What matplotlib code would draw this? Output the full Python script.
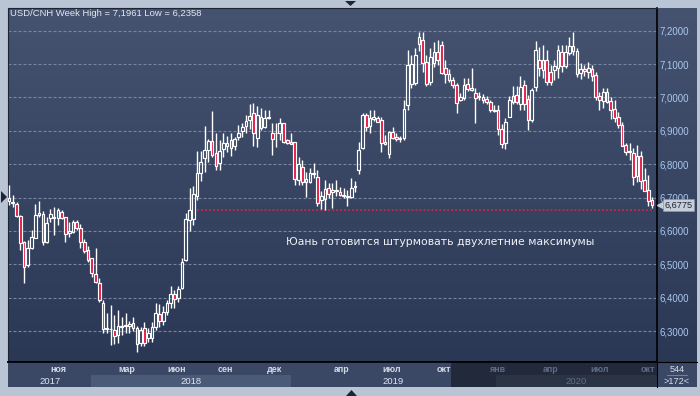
import numpy as np
import matplotlib
matplotlib.use("Agg")
import matplotlib.pyplot as plt
from matplotlib.patches import Polygon, Rectangle

# ---------------- data ----------------
opens = [6.690, 6.683, 6.681, 6.645, 6.568, 6.498, 6.549, 6.579, 6.648, 6.651,
         6.567, 6.639, 6.643, 6.639, 6.657, 6.642, 6.594, 6.597, 6.627, 6.609,
         6.567, 6.543, 6.519, 6.471, 6.444, 6.385, 6.310, 6.307, 6.303, 6.288,
         6.315, 6.315, 6.315, 6.324, 6.309, 6.264, 6.309, 6.279, 6.279, 6.312,
         6.351, 6.330, 6.357, 6.384, 6.411, 6.399, 6.430, 6.513, 6.632, 6.635,
         6.705, 6.773, 6.818, 6.842, 6.869, 6.833, 6.804, 6.845, 6.854, 6.872,
         6.854, 6.881, 6.900, 6.914, 6.932, 6.953, 6.878, 6.942, 6.910, 6.937,
         6.893, 6.893, 6.894, 6.922, 6.872, 6.867, 6.867, 6.753, 6.792, 6.748,
         6.748, 6.772, 6.762, 6.693, 6.696, 6.730, 6.716, 6.720, 6.716, 6.705,
         6.701, 6.703, 6.733, 6.782, 6.848, 6.947, 6.915, 6.934, 6.938, 6.932,
         6.867, 6.830, 6.896, 6.880, 6.875, 6.878, 6.977, 7.040, 7.043, 7.182,
         7.172, 7.105, 7.047, 7.103, 7.136, 7.157, 7.087, 7.070, 7.052, 7.037,
         6.992, 6.997, 7.040, 7.027, 7.012, 7.000, 7.000, 6.994, 6.985, 6.962,
         6.962, 6.904, 6.863, 6.942, 6.987, 7.007, 6.980, 7.037, 6.994, 6.932,
         7.030, 7.112, 7.082, 7.112, 7.077, 7.082, 7.089, 7.135, 7.095, 7.132,
         7.154, 7.139, 7.072, 7.084, 7.076, 7.085, 7.067, 7.004, 6.989, 7.015,
         6.990, 6.965, 6.940, 6.917, 6.857, 6.838, 6.834, 6.764, 6.825, 6.753,
         6.723, 6.693]
highs = [6.737, 6.707, 6.688, 6.647, 6.570, 6.572, 6.603, 6.680, 6.690, 6.660,
         6.641, 6.666, 6.672, 6.669, 6.663, 6.643, 6.627, 6.633, 6.633, 6.620,
         6.576, 6.555, 6.519, 6.549, 6.458, 6.393, 6.354, 6.378, 6.348, 6.363,
         6.342, 6.354, 6.330, 6.342, 6.315, 6.312, 6.327, 6.309, 6.327, 6.384,
         6.381, 6.375, 6.393, 6.435, 6.423, 6.435, 6.519, 6.654, 6.730, 6.734,
         6.840, 6.840, 6.914, 6.876, 6.959, 6.894, 6.873, 6.894, 6.885, 6.894,
         6.882, 6.917, 6.924, 6.947, 6.980, 6.983, 6.974, 6.968, 6.962, 6.962,
         6.923, 6.923, 6.938, 6.924, 6.874, 6.894, 6.867, 6.822, 6.812, 6.776,
         6.789, 6.804, 6.783, 6.720, 6.753, 6.744, 6.743, 6.753, 6.731, 6.729,
         6.722, 6.760, 6.750, 6.866, 6.953, 6.953, 6.962, 6.962, 6.944, 6.942,
         6.888, 6.899, 6.911, 6.893, 6.884, 6.992, 7.142, 7.127, 7.148, 7.196,
         7.1961, 7.127, 7.148, 7.166, 7.172, 7.169, 7.112, 7.084, 7.061, 7.043,
         7.013, 7.058, 7.058, 7.088, 7.028, 7.016, 7.010, 7.004, 6.993, 6.977,
         6.977, 6.920, 6.938, 7.004, 7.034, 7.034, 7.064, 7.052, 7.007, 7.028,
         7.169, 7.150, 7.157, 7.142, 7.097, 7.112, 7.157, 7.157, 7.157, 7.181,
         7.197, 7.148, 7.103, 7.097, 7.106, 7.097, 7.076, 7.016, 7.028, 7.028,
         7.001, 6.992, 6.956, 6.926, 6.863, 6.863, 6.849, 6.858, 6.840, 6.790,
         6.768, 6.702]
lows = [6.677, 6.672, 6.643, 6.543, 6.444, 6.491, 6.546, 6.578, 6.643, 6.558,
        6.564, 6.627, 6.588, 6.618, 6.636, 6.567, 6.582, 6.594, 6.603, 6.549,
        6.534, 6.507, 6.462, 6.444, 6.387, 6.294, 6.294, 6.258, 6.261, 6.264,
        6.288, 6.294, 6.294, 6.300, 6.2358, 6.255, 6.255, 6.267, 6.267, 6.303,
        6.312, 6.318, 6.348, 6.369, 6.369, 6.387, 6.426, 6.510, 6.600, 6.618,
        6.693, 6.750, 6.777, 6.806, 6.821, 6.783, 6.783, 6.822, 6.837, 6.825,
        6.843, 6.873, 6.882, 6.893, 6.905, 6.854, 6.851, 6.902, 6.908, 6.935,
        6.827, 6.851, 6.873, 6.864, 6.860, 6.860, 6.738, 6.738, 6.738, 6.703,
        6.745, 6.759, 6.675, 6.665, 6.662, 6.699, 6.670, 6.705, 6.705, 6.699,
        6.676, 6.699, 6.717, 6.771, 6.845, 6.899, 6.894, 6.928, 6.926, 6.837,
        6.857, 6.819, 6.875, 6.870, 6.866, 6.872, 6.962, 7.029, 7.037, 7.140,
        7.076, 7.033, 7.037, 7.091, 7.097, 7.070, 7.043, 7.046, 7.028, 6.954,
        6.989, 6.993, 7.019, 7.019, 6.923, 6.992, 6.983, 6.980, 6.956, 6.956,
        6.887, 6.848, 6.845, 6.941, 6.980, 6.980, 6.962, 6.962, 6.902, 6.926,
        7.019, 7.064, 7.058, 7.037, 7.037, 7.052, 7.058, 7.076, 7.088, 7.127,
        7.127, 7.061, 7.055, 7.064, 7.058, 7.049, 6.992, 6.962, 6.968, 6.983,
        6.935, 6.926, 6.908, 6.855, 6.827, 6.812, 6.738, 6.746, 6.727, 6.720,
        6.675, 6.668]
closes = [6.700, 6.688, 6.645, 6.563, 6.493, 6.549, 6.582, 6.648, 6.654, 6.567,
          6.624, 6.651, 6.640, 6.663, 6.639, 6.591, 6.600, 6.627, 6.609, 6.567,
          6.540, 6.513, 6.474, 6.447, 6.393, 6.305, 6.307, 6.305, 6.285, 6.315,
          6.312, 6.318, 6.320, 6.309, 6.261, 6.303, 6.264, 6.294, 6.312, 6.354,
          6.330, 6.357, 6.384, 6.411, 6.396, 6.426, 6.507, 6.636, 6.663, 6.710,
          6.774, 6.807, 6.842, 6.869, 6.827, 6.794, 6.840, 6.863, 6.864, 6.849,
          6.875, 6.894, 6.912, 6.929, 6.944, 6.894, 6.947, 6.908, 6.938, 6.940,
          6.875, 6.894, 6.924, 6.867, 6.864, 6.860, 6.756, 6.800, 6.748, 6.756,
          6.774, 6.774, 6.684, 6.705, 6.726, 6.710, 6.722, 6.722, 6.708, 6.706,
          6.706, 6.729, 6.735, 6.842, 6.947, 6.912, 6.938, 6.942, 6.927, 6.863,
          6.860, 6.897, 6.878, 6.876, 6.878, 6.965, 7.097, 7.100, 7.127, 7.159,
          7.102, 7.039, 7.122, 7.136, 7.112, 7.072, 7.070, 7.052, 7.037, 6.982,
          7.002, 7.037, 7.024, 7.022, 6.997, 7.004, 6.992, 6.987, 6.962, 6.960,
          6.904, 6.860, 6.927, 6.992, 7.004, 6.987, 7.030, 6.980, 6.932, 7.022,
          7.142, 7.087, 7.112, 7.045, 7.045, 7.094, 7.142, 7.095, 7.137, 7.154,
          7.139, 7.069, 7.085, 7.080, 7.088, 7.065, 7.002, 6.992, 7.015, 6.987,
          6.962, 6.939, 6.917, 6.855, 6.836, 6.837, 6.763, 6.825, 6.751, 6.720,
          6.690, 6.6775]

price_ticks = [6.3, 6.4, 6.5, 6.6, 6.7, 6.8, 6.9, 7.0, 7.1, 7.2]
month_labels = ["ноя", "мар", "июн", "сен", "дек", "апр", "июл", "окт",
                "янв", "апр", "июл", "окт"]
month_pos = [12.85, 30.85, 44.1, 57.0, 70.1, 88.0, 101.3, 115.3,
             129.4, 143.6, 156.6, 169.6]
year_labels = ["2017", "2018", "2019", "2020"]
year_bounds = [-0.27, 21.9, 75.0, 129.4, 172.3]
last_price = 6.6775
alert_level = 6.662
alert_start = 50
title = "USD/CNH Week High = 7,1961 Low = 6,2358"
note = "Юань готовится штурмовать двухлетние максимумы"
note_x, note_y = 73.7, 6.567
bar_count_top = "544"
bar_count_bottom = ">172<"
dim_start = 117.5

# ---------------- figure ----------------
W, H = 700, 396
fig = plt.figure(figsize=(W / 100, H / 100), dpi=100)
fig.patch.set_facecolor("#b9c5d5")


def box(x0, y0, x1, y1):
    return [x0 / W, 1 - y1 / H, (x1 - x0) / W, (y1 - y0) / H]


def pt(x, y):
    return (x / W, 1 - y / H)


# gradient background (plot + right scale)
bg = fig.add_axes(box(8, 8, 697, 362))
top_c = np.array([0x45, 0x53, 0x70]) / 255
bot_c = np.array([0x2a, 0x38, 0x56]) / 255
t = np.linspace(0, 1, 256)[:, None, None]
grad = top_c[None, None, :] * (1 - t) + bot_c[None, None, :] * t
bg.imshow(grad, extent=[0, 1, 0, 1], aspect="auto", interpolation="bilinear")
bg.set_axis_off()

ax = fig.add_axes(box(8, 8, 657, 362))
ax.set_facecolor("none")
n = len(closes)
idx = np.arange(n)
o = np.array(opens); c = np.array(closes); h = np.array(highs); l = np.array(lows)
ax.set_xlim(-0.27, 172.3)
ax.set_ylim(6.2072, 7.268)

# grid
ax.set_xticks(month_pos)
ax.set_yticks(price_ticks)
ax.grid(True, color="#7886a2", linewidth=0.8, linestyle=(0, (2.7, 1.8)))
ax.set_axisbelow(True)
ax.tick_params(axis="x", length=0, labelbottom=False)
ax.yaxis.tick_right()
ax.set_yticklabels([f"{v:.4f}".replace(".", ",") for v in price_ticks],
                   fontfamily="Liberation Sans", fontsize=6.9, color="#abc8ee")
ax.tick_params(axis="y", length=0, pad=2.0)
for s in ["left", "top"]:
    ax.spines[s].set_color("#1c2435")
    ax.spines[s].set_linewidth(0.8)
for s in ["right", "bottom"]:
    ax.spines[s].set_color("#000000")
    ax.spines[s].set_linewidth(1.2)

# candles
body_lo = np.minimum(o, c)
body_hi = np.maximum(o, c)
ax.vlines(idx, body_hi, h, colors="white", linewidth=1.0, zorder=3)
ax.vlines(idx, l, body_lo, colors="white", linewidth=1.0, zorder=3)
height = np.maximum(body_hi - body_lo, 0.0015)
up = c >= o
ax.bar(idx[up], height[up], bottom=body_lo[up], width=0.72,
       facecolor="none", edgecolor="white", linewidth=0.85, zorder=4)
ax.bar(idx[~up], height[~up], bottom=body_lo[~up], width=0.72,
       facecolor="#e2143f", edgecolor="white", linewidth=0.85, zorder=4)

# alert line
ax.hlines(alert_level, alert_start, n - 0.5, colors="#e3243a", linewidth=1.1,
          linestyles=(0, (1.3, 1.3)), zorder=2.6)

# annotation
ax.text(note_x, note_y, note, fontfamily="DejaVu Sans", fontsize=7.8,
        color="#eef1f6", va="center", ha="left", zorder=5)

# last price label
yt = ax.get_yaxis_transform()
ax.plot([1.004], [last_price], marker="<", markersize=4.5, color="#c6ced9",
        markeredgecolor="#c6ced9", transform=yt, clip_on=False, zorder=6)
ax.text(1.011, last_price, f"{last_price:.4f}".replace(".", ","),
        transform=yt, va="center", ha="left", fontfamily="Liberation Sans",
        fontsize=6.6, color="#1b2434", clip_on=False, zorder=7,
        bbox=dict(boxstyle="square,pad=0.15", fc="#c6ced9", ec="#8a97ab", lw=0.5))

# title
fig.text(*pt(10, 14), title, fontfamily="Liberation Sans", fontsize=6.8,
         color="#e4e9f1", va="center", ha="left")

# bottom time axis
axb = fig.add_axes(box(8, 362, 657, 387), sharex=ax)
axb.set_facecolor("#3a4865")
axb.set_ylim(0, 1)
axb.set_xticks([])
axb.set_yticks([])
for s in axb.spines.values():
    s.set_visible(False)
axb.spines["top"].set_visible(True)
axb.spines["top"].set_color("#000000")
axb.spines["top"].set_linewidth(1.2)
for k in (1, 3):
    axb.add_patch(Rectangle((year_bounds[k], 0), year_bounds[k + 1] - year_bounds[k],
                            0.48, facecolor="#4b5a77", edgecolor="none", zorder=1))
axb.add_patch(Rectangle((dim_start, 0), year_bounds[-1] - dim_start, 1,
                        facecolor="#000000", alpha=0.42, edgecolor="none", zorder=2))
for lab, p in zip(month_labels, month_pos):
    dim = p > dim_start + 1
    axb.text(p + 0.4, 0.68, lab, ha="center", va="center", fontfamily="Liberation Sans",
             fontsize=6.4, fontweight="bold", color="#5f6d88" if dim else "#d4dbe8", zorder=3)
for k, lab in enumerate(year_labels):
    mid = 0.5 * (year_bounds[k] + year_bounds[k + 1])
    dim = year_bounds[k] >= dim_start
    axb.text(mid, 0.24, lab, ha="center", va="center", fontfamily="Liberation Sans",
             fontsize=6.8, color="#5f6d88" if dim else "#dfe5ef", zorder=3)

# corner box
axc = fig.add_axes(box(657, 362, 697, 387))
axc.set_facecolor("#3a4865")
axc.set_xlim(0, 1); axc.set_ylim(0, 1)
axc.set_xticks([]); axc.set_yticks([])
for s in axc.spines.values():
    s.set_visible(False)
axc.spines["top"].set_visible(True)
axc.spines["top"].set_color("#000000")
axc.spines["left"].set_visible(True)
axc.spines["left"].set_color("#000000")
axc.text(0.5, 0.72, bar_count_top, ha="center", va="center", fontfamily="Liberation Sans",
         fontsize=6.6, color="#d8dfeb")
axc.plot([0.25, 0.75], [0.5, 0.5], color="#7d8ba3", linewidth=0.6)
axc.text(0.5, 0.24, bar_count_bottom, ha="center", va="center", fontfamily="Liberation Sans",
         fontsize=6.6, color="#d8dfeb")

# small navigation triangles
fig.add_artist(Polygon([pt(345, 1), pt(356, 1), pt(350.5, 6)], closed=True,
                       transform=fig.transFigure, facecolor="#1d2535", edgecolor="none"))
fig.add_artist(Polygon([pt(346, 396), pt(357, 396), pt(351.5, 390)], closed=True,
                       transform=fig.transFigure, facecolor="#1d2535", edgecolor="none"))
fig.add_artist(Polygon([pt(1, 191), pt(1, 203), pt(7, 197)], closed=True,
                       transform=fig.transFigure, facecolor="#1d2535", edgecolor="none"))

fig.savefig("out.png", dpi=100, facecolor=fig.get_facecolor())
